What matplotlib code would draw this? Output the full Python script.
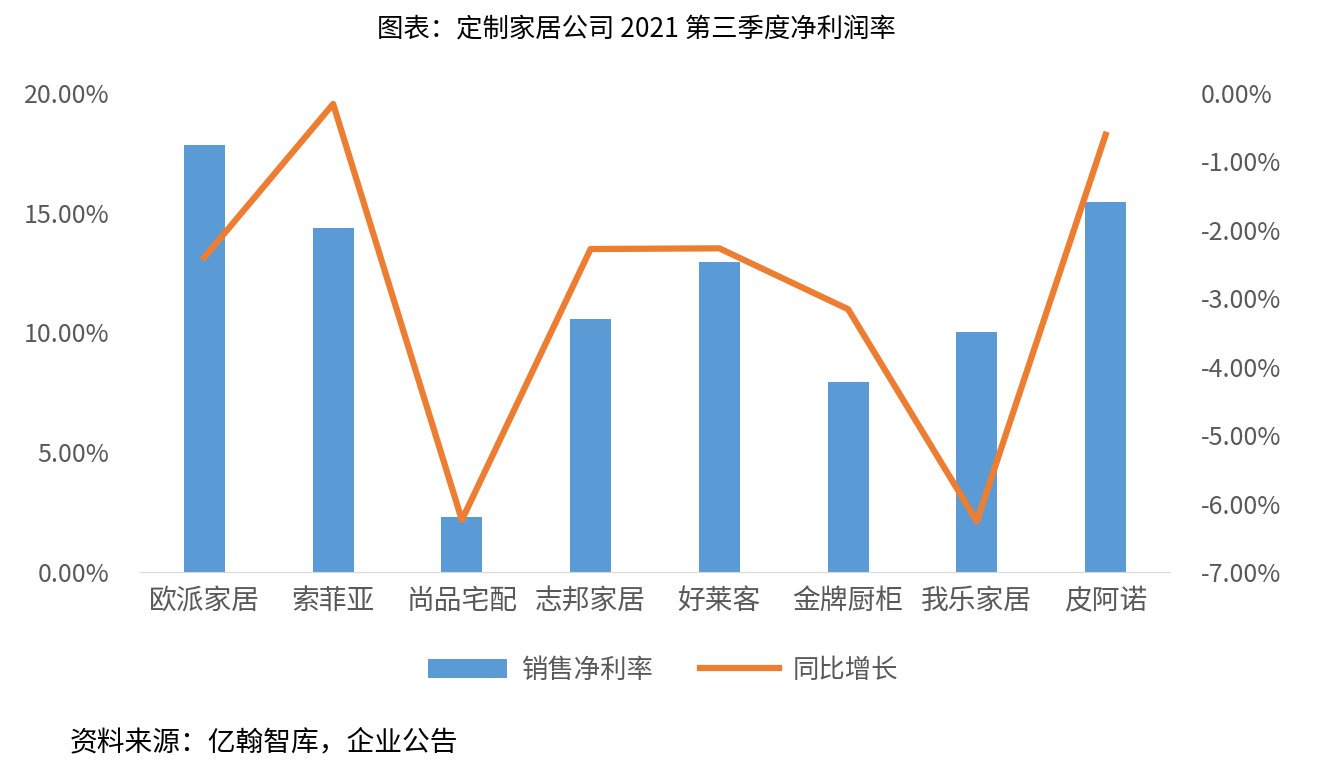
import matplotlib
matplotlib.use('Agg')
import matplotlib.pyplot as plt
from matplotlib.ticker import FuncFormatter

plt.rcParams['font.family'] = ['Noto Sans CJK SC', 'DejaVu Sans']

companies = ['欧派家居', '索菲亚', '尚品宅配', '志邦家居', '好莱客', '金牌厨柜', '我乐家居', '皮阿诺']
net_margin = [17.83, 14.36, 2.30, 10.56, 12.94, 7.93, 10.02, 15.45]
yoy_change = [-2.40, -0.16, -6.24, -2.28, -2.27, -3.16, -6.26, -0.61]

BLUE = '#5b9bd5'
ORANGE = '#ed7d31'
TXT = '#595959'

fig = plt.figure(figsize=(13.26, 7.7), dpi=100)
ax = fig.add_axes([140/1326, 1-572/770, 1030/1326, 479/770])
x = range(len(companies))
ax.bar(x, net_margin, width=0.32, color=BLUE, label='销售净利率', zorder=2)
ax.set_ylim(0, 20)
ax.set_yticks([0, 5, 10, 15, 20])
ax.yaxis.set_major_formatter(FuncFormatter(lambda v, p: f'{v:.2f}%'))
ax.set_xlim(-0.5, len(companies) - 0.5)
ax.set_xticks(list(x))
ax.set_xticklabels(companies)

ax2 = ax.twinx()
ax2.plot(x, yoy_change, color=ORANGE, lw=4.5, label='同比增长', zorder=3)
ax2.set_ylim(-7, 0)
ax2.set_yticks(range(-7, 1))
ax2.yaxis.set_major_formatter(FuncFormatter(lambda v, p: f'{v:.2f}%'))

for a in (ax, ax2):
    for s in a.spines.values():
        s.set_visible(False)
    a.tick_params(length=0, labelsize=18, colors=TXT)
ax.spines['bottom'].set_visible(True)
ax.spines['bottom'].set_color('#d9d9d9')
ax.tick_params(axis='y', pad=22)
ax2.tick_params(axis='y', pad=22)
ax.tick_params(axis='x', pad=10, labelsize=20)

h1, l1 = ax.get_legend_handles_labels()
h2, l2 = ax2.get_legend_handles_labels()
fig.legend(h1 + h2, l1 + l2, loc='center', bbox_to_anchor=(0.5, 1-670/770),
           ncol=2, frameon=False, fontsize=19, labelcolor=TXT,
           handlelength=3.0, handletextpad=0.5, columnspacing=1.8)

fig.text(0.48, 1-30/770, '图表：定制家居公司 2021 第三季度净利润率', ha='center', va='center',
         fontsize=19, color='black')
fig.text(70/1326, 1-742/770, '资料来源：亿翰智库，企业公告', ha='left', va='center',
         fontsize=20, color='black')

fig.savefig('out.png', dpi=100, facecolor='white')
